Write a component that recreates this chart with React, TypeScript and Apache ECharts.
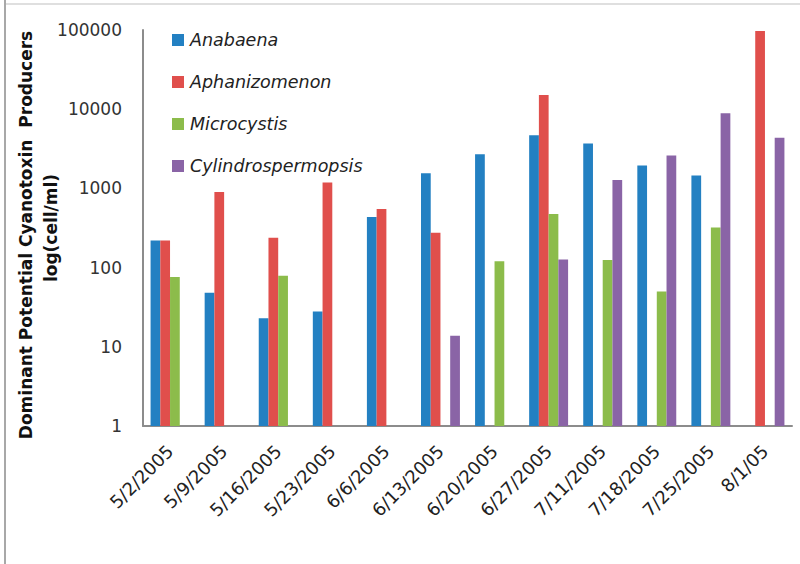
import React, { useEffect, useRef } from "react";
import * as echarts from "echarts";

const categories = ["5/2/2005", "5/9/2005", "5/16/2005", "5/23/2005", "6/6/2005", "6/13/2005", "6/20/2005", "6/27/2005", "7/11/2005", "7/18/2005", "7/25/2005", "8/1/05"];
const seriesNames = ["Anabaena", "Aphanizomenon", "Microcystis", "Cylindrospermopsis"];
const anabaena = [220, 48, 23, 28, 435, 1550, 2700, 4700, 3700, 1950, 1450, null];
const aphanizomenon = [220, 900, 238, 1190, 550, 275, null, 15100, null, null, null, 97000];
const microcystis = [76, null, 79, null, null, null, 120, 475, 125, 50, 320, null];
const cylindrospermopsis = [null, null, null, null, null, 13.8, null, 127, 1280, 2600, 8900, 4350];
const yTicks = [1, 10, 100, 1000, 10000, 100000];
const colors = ["#2380C2", "#E04F4C", "#8CBC4B", "#8A64A6"];

export default function App() {
  const ref = useRef<HTMLDivElement>(null);
  useEffect(() => {
    if (!ref.current) return;
    const chart = echarts.init(ref.current, null, { renderer: "svg" });
    const values = [anabaena, aphanizomenon, microcystis, cylindrospermopsis];
    const font = "DejaVu Sans";
    chart.setOption({
      animation: false,
      backgroundColor: "#ffffff",
      color: colors,
      grid: { left: 143, top: 30, right: 8, bottom: 138, containLabel: false },
      legend: {
        orient: "vertical",
        left: 172,
        top: 30,
        padding: 0,
        itemWidth: 12,
        itemHeight: 12,
        itemGap: 22,
        icon: "rect",
        data: seriesNames,
        textStyle: { fontFamily: font, fontStyle: "italic", fontSize: 17.5, color: "#222", lineHeight: 20, padding: [0, 0, 0, 1] },
      },
      xAxis: {
        type: "category",
        data: categories,
        axisLine: { lineStyle: { color: "#8c8c8c", width: 2 } },
        axisTick: { show: false },
        axisLabel: { rotate: 45, interval: 0, margin: 22, fontFamily: font, fontSize: 18, color: "#222" },
      },
      yAxis: {
        type: "log",
        logBase: 10,
        min: 1,
        max: 100000,
        splitNumber: 5,
        axisLine: { show: true, lineStyle: { color: "#8c8c8c", width: 2 } },
        axisTick: { show: false },
        splitLine: { show: false },
        axisLabel: {
          margin: 21,
          fontFamily: font,
          fontSize: 17,
          color: "#333",
          formatter: (v: number) => {
            const r = Math.round(v);
            return yTicks.indexOf(r) >= 0 ? String(r) : "";
          },
        },
      },
      series: seriesNames.map((name, i) => ({
        name,
        type: "bar",
        data: values[i].map((v) => (v === null ? "-" : v)),
        barGap: "0%",
        barCategoryGap: "28%",
        itemStyle: { color: colors[i] },
      })),
      graphic: [
        { type: "line", shape: { x1: 5, y1: 4, x2: 800, y2: 4 }, style: { stroke: "#d4d4d4", lineWidth: 1.5 } },
        { type: "line", shape: { x1: 5, y1: 0, x2: 5, y2: 564 }, style: { stroke: "#a8a8a8", lineWidth: 2 } },
        {
          type: "text",
          x: 26,
          y: 235,
          rotation: Math.PI / 2,
          style: {
            text: "Dominant Potential Cyanotoxin  Producers",
            fontFamily: font,
            fontWeight: "bold",
            fontSize: 17,
            fill: "#111",
            textAlign: "center",
            textVerticalAlign: "middle",
          },
        },
        {
          type: "text",
          x: 51,
          y: 228,
          rotation: Math.PI / 2,
          style: {
            text: "log(cell/ml)",
            fontFamily: font,
            fontWeight: "bold",
            fontSize: 17,
            fill: "#111",
            textAlign: "center",
            textVerticalAlign: "middle",
          },
        },
      ],
    });
    return () => chart.dispose();
  }, []);
  return <div ref={ref} style={{ position: "fixed", left: 0, top: 0, width: 800, height: 564 }} />;
}
